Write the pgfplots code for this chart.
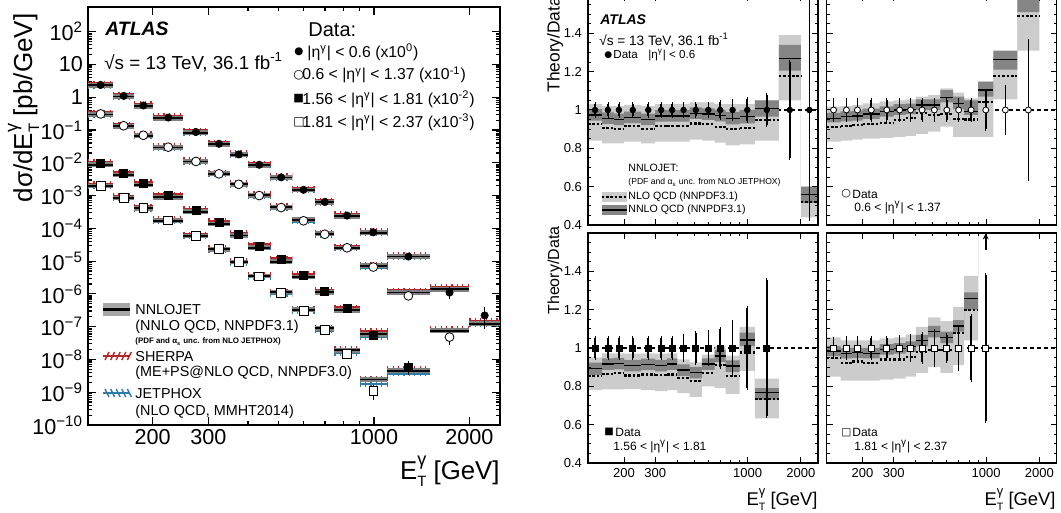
\documentclass[border=0pt]{standalone}
\usepackage{fontspec}
\setmainfont{Liberation Sans}
\newfontfamily\dejavu{DejaVu Sans}
\usepackage{graphicx}
\usepackage{pgfplots}
\pgfplotsset{compat=1.18}
\usepackage{pgfplotstable}
\usetikzlibrary{arrows.meta}
\newcommand\fs[1]{\fontsize{#1}{#1}\selectfont}
\newcommand\ET{E\rlap{\raisebox{0.55em}{\scalebox{0.7}{γ}}}\raisebox{-0.27em}{\scalebox{0.58}{T}}}
\newcommand\etag{|η\textsuperscript{γ}|}
\definecolor{lband}{gray}{0.80}
\definecolor{dband}{gray}{0.52}
\definecolor{sherpa}{RGB}{178,40,40}
\definecolor{jetphox}{RGB}{45,125,170}

% columns: lo = bin low edge, x = bin centre, y = data (scaled), e = rel. unc.,
% r = NNLO/data, nnup/nndn = NNLO band, nlo = NLO/data, nlup/nldn = NLO band,
% sh, jp = SHERPA/data and JETPHOX/data (left panel)
\pgfplotstableread{
lo   x    y        e     r     nnup  nndn  nlo   nlup  nldn  sh   jp
125  137  2.37     0.03  0.974 1.004 0.944 0.927 1.030 0.840 1.12 0.93
150  162  1.10     0.03  0.957 0.987 0.927 0.904 1.020 0.826 1.12 0.93
175  187  0.56     0.03  0.951 0.981 0.921 0.900 1.020 0.826 1.12 0.93
200  224  0.24     0.03  0.962 0.992 0.932 0.916 1.025 0.835 1.12 0.93
250  274  0.087    0.03  0.951 0.981 0.921 0.900 1.020 0.826 1.12 0.93
300  324  0.038    0.03  0.969 0.999 0.939 0.915 1.030 0.835 1.12 0.93
350  374  0.018    0.03  0.969 0.999 0.939 0.915 1.030 0.835 1.12 0.93
400  434  0.0087   0.03  0.969 0.999 0.939 0.915 1.030 0.835 1.12 0.93
470  509  0.0036   0.03  0.983 1.013 0.953 0.930 1.040 0.845 1.12 0.93
550  599  0.0015   0.03  0.979 1.009 0.949 0.925 1.040 0.840 1.12 0.93
650  699  6.4e-4   0.04  0.970 1.000 0.940 0.910 1.030 0.830 1.12 0.93
750  822  2.45e-4  0.045 0.957 0.990 0.925 0.900 1.030 0.815 1.12 0.93
900  995  7.6e-5   0.055 0.965 1.000 0.930 0.907 1.030 0.820 1.12 0.93
1100 1284 1.38e-5  0.08  1.009 1.050 0.965 0.948 1.050 0.840 1.15 0.95
1500 1732 1.1e-6   0.25  1.270 1.340 1.205 1.177 1.390 1.050 1.50 1.30
2000 2236 2.2e-7   0.57  0.560 0.600 0.515 0.520 0.600 0.440 0.68 0.52
2500 nan  2.2e-7   0     0.560 0.600 0.515 0.520 0.600 0.440 0.68 0.52
}\tA
\pgfplotstableread{
lo   x    y        e     r     nnup  nndn  nlo   nlup  nldn  sh   jp
125  137  0.31     0.05  0.957 0.985 0.935 0.910 1.017 0.835 1.12 0.93
150  162  0.135    0.05  0.965 0.993 0.940 0.915 1.020 0.840 1.12 0.93
175  187  0.069    0.05  0.969 0.997 0.944 0.920 1.025 0.845 1.12 0.93
200  224  0.030    0.05  0.979 1.007 0.954 0.927 1.035 0.850 1.12 0.93
250  274  0.011    0.05  0.991 1.019 0.966 0.934 1.045 0.855 1.12 0.93
300  324  0.0046   0.05  1.000 1.030 0.975 0.948 1.050 0.860 1.12 0.93
350  374  0.0022   0.05  1.003 1.033 0.978 0.957 1.055 0.865 1.12 0.93
400  434  0.0010   0.05  1.026 1.056 1.000 0.983 1.070 0.875 1.12 0.93
470  509  4.3e-4   0.05  1.026 1.056 1.000 0.974 1.078 0.887 1.12 0.93
550  599  1.7e-4   0.05  1.066 1.104 1.040 0.980 1.113 0.913 1.12 0.93
650  699  6.6e-5   0.05  1.035 1.070 1.005 0.955 1.090 0.860 1.12 0.93
750  822  2.55e-5  0.05  0.991 1.050 0.974 0.950 1.060 0.860 1.12 0.93
900  995  6.6e-6   0.10  1.104 1.148 1.070 1.043 1.148 0.860 1.15 0.95
1100 1284 8.7e-7   0.12  1.265 1.310 1.210 1.178 1.300 1.056 1.50 1.25
1500 1732 4.8e-8   0.36  1.580 1.660 1.510 1.490 1.750 1.310 1.77 1.55
2000 nan  4.8e-8   0     1.580 1.660 1.510 1.490 1.750 1.310 1.77 1.55
}\tB
\pgfplotstableread{
lo   x    y        e     r     nnup  nndn  nlo   nlup  nldn  sh   jp
125  137  0.0098   0.052 0.894 0.924 0.860 0.854 0.951 0.780 1.12 0.93
150  162  0.0046   0.052 0.916 0.946 0.886 0.865 0.972 0.784 1.12 0.93
175  187  0.0023   0.052 0.918 0.948 0.888 0.868 0.972 0.784 1.12 0.93
200  224  9.8e-4   0.052 0.908 0.938 0.878 0.857 0.970 0.785 1.12 0.93
250  274  3.5e-4   0.052 0.915 0.945 0.885 0.862 0.972 0.780 1.12 0.93
300  324  1.5e-4   0.052 0.908 0.938 0.878 0.858 0.970 0.775 1.12 0.93
350  374  6.6e-5   0.052 0.916 0.946 0.886 0.862 0.972 0.780 1.12 0.93
400  434  2.9e-5   0.065 0.885 0.915 0.855 0.842 0.940 0.765 1.12 0.93
470  509  1.1e-5   0.077 0.871 0.901 0.841 0.829 0.925 0.745 1.12 0.93
550  599  3.6e-6   0.083 0.916 0.946 0.886 0.871 0.965 0.800 1.12 0.93
650  699  1.18e-6  0.10  0.958 0.990 0.926 0.911 1.010 0.790 1.12 0.93
750  822  3.5e-7   0.135 0.906 0.936 0.876 0.854 0.960 0.760 1.12 0.93
900  995  5.6e-8   0.21  1.042 1.080 1.010 0.977 1.110 0.880 1.32 0.86
1100 1284 5.9e-9   0.355 0.767 0.790 0.730 0.732 0.840 0.633 0.87 0.62
1500 nan  5.9e-9   0     0.767 0.790 0.730 0.732 0.840 0.633 0.87 0.62
}\tC
\pgfplotstableread{
lo   x    y        e     r     nnup  nndn  nlo   nlup  nldn  sh   jp
125  137  0.002    0.047 0.984 1.010 0.958 0.946 1.056 0.850 1.12 0.93
150  162  8.7e-4   0.05  0.972 1.000 0.946 0.923 1.040 0.830 1.12 0.93
175  187  4.2e-4   0.05  0.975 1.002 0.948 0.930 1.040 0.830 1.12 0.93
200  224  1.74e-4  0.05  0.972 1.000 0.946 0.923 1.040 0.830 1.12 0.93
250  274  5.9e-5   0.05  0.993 1.020 0.966 0.940 1.050 0.835 1.12 0.93
300  324  2.3e-5   0.055 0.998 1.025 0.971 0.940 1.055 0.840 1.12 0.93
350  374  9.3e-6   0.063 1.007 1.035 0.980 0.955 1.070 0.850 1.12 0.93
400  434  3.4e-6   0.075 1.038 1.068 1.010 0.980 1.110 0.870 1.12 0.93
470  509  1.05e-6  0.087 1.085 1.115 1.055 0.990 1.160 0.900 1.12 0.93
550  599  3.1e-7   0.07  1.056 1.086 1.026 0.990 1.140 0.870 1.12 0.93
650  699  8.1e-8   0.11  1.115 1.145 1.085 1.077 1.215 0.910 1.12 0.93
750  822  1.5e-8   0.165 1.260 1.290 1.200 1.200 1.376 1.040 1.40 1.05
900  995  1.07e-9  0.38  2.300 2.400 2.200 2.000 2.600 1.800 2.52 1.65
1100 nan  1.07e-9  0     2.300 2.400 2.200 2.000 2.600 1.800 2.52 1.65
}\tD

\newcommand\theoryL[1]{%
 \addplot[jetphox, line width=0.9pt, jump mark left, forget plot] table[x=lo, y expr=\thisrow{y}*\thisrow{jp}] {#1};
 \addplot[jetphox, line width=2.6pt, dash pattern=on 0.6pt off 2.1pt, jump mark left, forget plot] table[x=lo, y expr=\thisrow{y}*\thisrow{jp}] {#1};
 \addplot[sherpa, line width=0.9pt, jump mark left, forget plot] table[x=lo, y expr=\thisrow{y}*\thisrow{sh}] {#1};
 \addplot[sherpa, line width=2.6pt, dash pattern=on 0.6pt off 2.1pt, jump mark left, forget plot] table[x=lo, y expr=\thisrow{y}*\thisrow{sh}] {#1};
 \addplot[gray, line width=2.4pt, jump mark left, forget plot] table[x=lo, y expr=\thisrow{y}*\thisrow{r}] {#1};
 \addplot[black, line width=0.9pt, jump mark left, forget plot] table[x=lo, y expr=\thisrow{y}*\thisrow{r}] {#1};
}
\newcommand\dataL[2]{%
 \addplot[only marks, black, #2, error bars/.cd, y dir=both, y explicit relative,
   error bar style={line width=0.8pt,black}, error mark options={mark size=1pt, black}]
   table[x=x, y=y, y error=e] {#1};
}

% #1 table, #2 data mark options, #3 axis options, #4 extra code
\newcommand\panel[4]{%
 \begin{axis}[scale only axis, width=115pt, height=115pt,
   xmode=log, xmin=125, xmax=2500, ymin=0.4, ymax=1.6, anchor=south west, #3, hide axis]
  \addplot[black, line width=0.6pt, dash pattern=on 2pt off 1.5pt] coordinates {(125,1) (2500,1)};
 \end{axis}
 \begin{axis}[scale only axis, width=115pt, height=115pt,
   xmode=log, xmin=125, xmax=2500, ymin=0.4, ymax=1.6, anchor=south west, #3, hide axis,
   stack plots=y, reverse stacked plots=false]
  \addplot[draw=none, const plot] table[x=lo, y=nldn] {#1};
  \addplot[draw=none, fill=lband, const plot] table[x=lo, y expr=\thisrow{nlup}-\thisrow{nldn}] {#1} \closedcycle;
  \addplot[draw=none, const plot] table[x=lo, y expr=\thisrow{nndn}-\thisrow{nlup}] {#1};
  \addplot[draw=none, fill=dband, const plot] table[x=lo, y expr=\thisrow{nnup}-\thisrow{nndn}] {#1} \closedcycle;
 \end{axis}
 \begin{axis}[scale only axis, width=115pt, height=115pt,
   xmode=log, xmin=125, xmax=2500, ymin=0.4, ymax=1.6,
   xtick={200,300,1000,2000}, xticklabels={200,300,1000,2000},
   minor xtick={400,500,600,700,800,900},
   ytick={0.4,0.6,0.8,1,1.2,1.4}, minor ytick={0.45,0.5,...,1.6},
   yticklabels={0.4,0.6,0.8,1,1.2,1.4},
   tick label style={font=\fs{6.5}},
   major tick length=3pt, minor tick length=1.5pt,
   every tick/.style={black, line width=0.5pt},
   axis line style={line width=0.8pt},
   yticklabel style={xshift=0.5pt},
   xticklabel style={yshift=1pt}, anchor=south west, #3]
  \addplot[black, line width=0.6pt, jump mark left] table[x=lo, y=r] {#1};
  \addplot[black, line width=1.1pt, dash pattern=on 1.3pt off 0.9pt, jump mark left] table[x=lo, y=nlo] {#1};
  \addplot[only marks, black, #2, error bars/.cd, y dir=both, y explicit,
    error bar style={line width=0.8pt,black}, error mark options={mark size=1pt, black}]
    table[x=x, y expr=1, y error=e] {#1};
  #4
 \end{axis}
}

\begin{document}
\begin{tikzpicture}
\useasboundingbox (0,0) rectangle (530.5pt,256.5pt);

% ---------------- left panel ----------------
\begin{axis}[at={(44pt,44pt)}, anchor=south west, scale only axis, width=206pt, height=208.85pt,
  xmode=log, ymode=log, xmin=125, xmax=2500, ymin=1e-10, ymax=555,
  xtick={200,300,1000,2000}, xticklabels={200,300,1000,2000},
  minor xtick={400,500,600,700,800,900},
  ytick={1e-10,1e-9,1e-8,1e-7,1e-6,1e-5,1e-4,1e-3,1e-2,1e-1,1,10,100},
  yticklabels={10\textsuperscript{−10},10\textsuperscript{−9},10\textsuperscript{−8},10\textsuperscript{−7},10\textsuperscript{−6},10\textsuperscript{−5},10\textsuperscript{−4},10\textsuperscript{−3},10\textsuperscript{−2},10\textsuperscript{−1},1,10,10\textsuperscript{2}},
  tick label style={font=\fs{10.8}},
  yticklabel style={xshift=1pt},
  xticklabel style={yshift=1.5pt},
  major tick length=4pt, minor tick length=2pt,
  every tick/.style={black, line width=0.6pt},
  axis line style={line width=0.9pt}]
\theoryL{\tA}
\theoryL{\tB}
\theoryL{\tC}
\theoryL{\tD}
\dataL{\tA}{mark=*, mark size=1.8pt}
\dataL{\tB}{mark=*, mark size=2.2pt, mark options={fill=white, draw=black}}
\dataL{\tC}{mark=square*, mark size=2pt}
\dataL{\tD}{mark=square*, mark size=2.2pt, mark options={fill=white, draw=black}}
\end{axis}

% texts left panel
\node[anchor=west, inner sep=0] at (52.5pt,242pt) {\fs{9.7}\bfseries\itshape ATLAS};
\node[anchor=west, inner sep=0] at (52pt,225.5pt) {\fs{9.4}√s = 13 TeV, 36.1 fb\textsuperscript{-1}};
\node[anchor=west, inner sep=0] at (154pt,241.5pt) {\fs{10}Data:};
\node[anchor=west, inner sep=0] at (147pt,230.5pt) {\fs{5.2}\dejavu ●};
\node[anchor=west, inner sep=0] at (153.5pt,230.5pt) {\fs{7.9}\etag{} < 0.6 (x10\textsuperscript{0})};
\node[anchor=west, inner sep=0] at (146.5pt,219pt) {\fs{6.2}\dejavu ○};
\node[anchor=west, inner sep=0] at (151pt,219pt) {\fs{7.9}0.6 < \etag{} < 1.37 (x10\textsuperscript{-1})};
\node[anchor=west, inner sep=0] at (146.5pt,207pt) {\fs{5.6}\dejavu ■};
\node[anchor=west, inner sep=0] at (151pt,207pt) {\fs{7.9}1.56 < \etag{} < 1.81 (x10\textsuperscript{-2})};
\node[anchor=west, inner sep=0] at (146.5pt,195.5pt) {\fs{6}\dejavu □};
\node[anchor=west, inner sep=0] at (151pt,195.5pt) {\fs{7.9}1.81 < \etag{} < 2.37 (x10\textsuperscript{-3})};

% legend bottom-left
\fill[gray!70] (51.5pt,98.5pt) rectangle (65pt,105pt);
\draw[line width=1.2pt] (51.5pt,101.7pt) -- (65pt,101.7pt);
\draw[sherpa, line width=1.2pt] (51.5pt,78.5pt) -- (65pt,78.5pt);
\foreach \i in {0,...,4} {\draw[sherpa, line width=0.7pt] (52.5pt+2.8*\i pt,76.5pt) -- (54.5pt+2.8*\i pt,80.5pt);}
\draw[jetphox, line width=1.2pt] (51.5pt,60pt) -- (65pt,60pt);
\foreach \i in {0,...,4} {\draw[jetphox, line width=0.7pt] (52.5pt+2.8*\i pt,62pt) -- (54.5pt+2.8*\i pt,58pt);}
\node[anchor=west, inner sep=0] at (67.5pt,101.5pt) {\fs{7.2}NNLOJET};
\node[anchor=west, inner sep=0] at (67.5pt,93pt) {\fs{7.2}(NNLO QCD, NNPDF3.1)};
\node[anchor=west, inner sep=0] at (67.5pt,85.5pt) {\fs{3.95}\bfseries (PDF and α\textsubscript{s} unc. from NLO JETPHOX)};
\node[anchor=west, inner sep=0] at (67.5pt,78pt) {\fs{7.2}SHERPA};
\node[anchor=west, inner sep=0] at (67.5pt,70pt) {\fs{7.2}(ME+PS@NLO QCD, NNPDF3.0)};
\node[anchor=west, inner sep=0] at (67.5pt,59.5pt) {\fs{7.2}JETPHOX};
\node[anchor=west, inner sep=0] at (67.5pt,50.5pt) {\fs{7.2}(NLO QCD, MMHT2014)};
\node[anchor=base east, inner sep=0] at (250pt,16.5pt) {\fs{12.9}\ET{} [GeV]};
\node[anchor=base, rotate=90, inner sep=0] at (16pt,202.5pt) {\fs{13}dσ/d\ET{} [pb/GeV]};

% ---------------- ratio panels ----------------
\panel{\tA}{mark=*, mark size=1.4pt}{at={(294pt,144pt)}, xticklabels={}}{}
\panel{\tB}{mark=*, mark size=1.5pt, mark options={fill=white, draw=black}}{at={(413.25pt,144pt)}, xticklabels={}, yticklabels={}}{}
\panel{\tC}{mark=square*, mark size=1.5pt}{at={(294pt,25pt)}}{}
\panel{\tD}{mark=square*, mark size=1.5pt, mark options={fill=white, draw=black}}{at={(413.25pt,25pt)}, yticklabels={}}{\draw[-{Stealth[length=3pt,width=3pt]}, line width=0.8pt] (axis cs:995,1.51) -- (axis cs:995,1.598);}

% texts ratio panels
\node[anchor=west, inner sep=0] at (300pt,246.5pt) {\fs{7}\bfseries\itshape ATLAS};
\node[anchor=west, inner sep=0] at (299.5pt,236.5pt) {\fs{6.8}√s = 13 TeV, 36.1 fb\textsuperscript{-1}};
\node[anchor=west, inner sep=0] at (302pt,229pt) {\fs{4.5}\dejavu ●};
\node[anchor=west, inner sep=0] at (306.5pt,229pt) {\fs{5.8}Data};
\node[anchor=west, inner sep=0] at (324pt,229pt) {\fs{5.8}\etag{} < 0.6};
\node[anchor=west, inner sep=0] at (314pt,172.5pt) {\fs{5.3}NNLOJET:};
\node[anchor=west, inner sep=0] at (314pt,165.5pt) {\fs{4.3}(PDF and α\textsubscript{s} unc. from NLO JETPHOX)};
\fill[lband] (300.8pt,155.5pt) rectangle (313.3pt,160.5pt);
\draw[black, line width=1.1pt, dash pattern=on 1.3pt off 0.9pt] (300.8pt,158pt) -- (313.3pt,158pt);
\node[anchor=west, inner sep=0] at (314pt,158pt) {\fs{5.3}NLO QCD (NNPDF3.1)};
\fill[dband] (300.8pt,149pt) rectangle (313.3pt,154pt);
\draw[black, line width=0.8pt] (300.8pt,151.5pt) -- (313.3pt,151.5pt);
\node[anchor=west, inner sep=0] at (314pt,151.5pt) {\fs{5.3}NNLO QCD (NNPDF3.1)};

\node[anchor=west, inner sep=0] at (420.5pt,159.5pt) {\fs{5.5}\dejavu ○};
\node[anchor=west, inner sep=0] at (426pt,159.5pt) {\fs{6}Data};
\node[anchor=west, inner sep=0] at (427pt,152.8pt) {\fs{6}0.6 < \etag{} < 1.37};
\node[anchor=west, inner sep=0] at (302pt,40.3pt) {\fs{5}\dejavu ■};
\node[anchor=west, inner sep=0] at (307.5pt,40.3pt) {\fs{6}Data};
\node[anchor=west, inner sep=0] at (306.5pt,33.3pt) {\fs{6}1.56 < \etag{} < 1.81};
\node[anchor=west, inner sep=0] at (420.5pt,40.3pt) {\fs{5.3}\dejavu □};
\node[anchor=west, inner sep=0] at (426pt,40.3pt) {\fs{6}Data};
\node[anchor=west, inner sep=0] at (427pt,33.3pt) {\fs{6}1.81 < \etag{} < 2.37};

\node[anchor=west, rotate=90, inner sep=0] at (277.5pt,210pt) {\fs{8.7}Theory/Data};
\node[anchor=west, rotate=90, inner sep=0] at (277.5pt,99pt) {\fs{8}Theory/Data};
\node[anchor=base east, inner sep=0] at (409pt,3.5pt) {\fs{9.2}\ET{} [GeV]};
\node[anchor=base east, inner sep=0] at (528pt,3.5pt) {\fs{9.2}\ET{} [GeV]};
\end{tikzpicture}
\end{document}
